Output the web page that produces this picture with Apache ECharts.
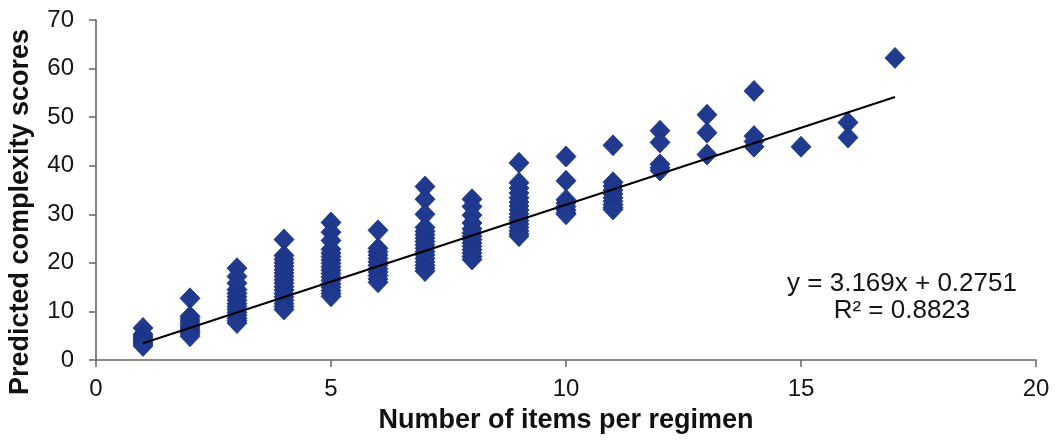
<!DOCTYPE html>
<html>
<head>
<meta charset="utf-8">
<title>Predicted complexity scores vs number of items per regimen</title>
<script src="https://cdn.jsdelivr.net/npm/echarts@6/dist/echarts.min.js"></script>
<style>
  html, body { margin: 0; padding: 0; background: #ffffff; }
  #chart { width: 1056px; height: 444px; }
</style>
</head>
<body>
<div id="chart"></div>
<script>
// Number of items in each regimen (x positions of the point columns)
const itemCounts = [1, 2, 3, 4, 5, 6, 7, 8, 9, 10, 11, 12, 13, 14, 15, 16, 17];

// Predicted complexity scores observed for each item count
const scoresByCount = [
  [6.6, 5.3, 4.9, 4.5, 4.1, 3.7, 3.3, 2.9],
  [12.7, 9.0, 8.5, 8.0, 7.5, 7.0, 6.6, 6.2, 5.8, 5.4, 4.9],
  [18.9, 17.2, 15.8, 14.5, 13.7, 13.0, 12.3, 11.6, 11.0, 10.4, 9.8, 9.2, 8.6, 8.1, 7.6],
  [24.8, 21.5, 20.7, 20.0, 19.3, 18.6, 17.9, 17.2, 16.5, 15.8, 15.1, 14.4, 13.7, 13.0, 12.3, 11.6, 11.0, 10.4],
  [28.3, 26.3, 24.6, 22.8, 22.0, 21.3, 20.6, 19.9, 19.2, 18.5, 17.8, 17.1, 16.4, 15.7, 15.0, 14.3, 13.7, 13.1],
  [26.7, 23.0, 22.3, 21.6, 20.9, 20.2, 19.5, 18.8, 18.1, 17.4, 16.7, 16.0],
  [35.7, 33.1, 30.0, 27.3, 26.5, 25.8, 25.1, 24.4, 23.7, 23.0, 22.3, 21.6, 20.9, 20.2, 19.5, 18.9, 18.3],
  [33.1, 31.6, 29.8, 28.2, 27.0, 26.2, 25.5, 24.8, 24.1, 23.4, 22.7, 22.0, 21.3, 20.7],
  [40.6, 36.5, 35.4, 34.4, 33.4, 32.5, 31.7, 30.9, 30.1, 29.4, 28.7, 28.0, 27.3, 26.6, 26.0, 25.5],
  [41.9, 36.9, 33.0, 32.3, 31.6, 30.9, 30.3, 30.0],
  [44.2, 36.6, 35.8, 35.0, 34.2, 33.4, 32.7, 32.0, 31.4, 31.0],
  [47.2, 44.8, 40.3, 39.6, 39.0],
  [50.5, 46.8, 42.3],
  [55.4, 46.1, 45.0, 43.9],
  [43.9],
  [48.9, 45.8],
  [62.2]
];

// Axis ticks
const xTicks = [0, 5, 10, 15, 20];
const yTicks = [0, 10, 20, 30, 40, 50, 60, 70];

// Linear trend line fitted to the points
const trendSlope = 3.169;
const trendIntercept = 0.2751;
const trendR2 = 0.8823;
const trendRange = [1, 17];

const points = [];
itemCounts.forEach((n, i) => {
  scoresByCount[i].forEach(v => points.push([n, v]));
});

const trendPoints = trendRange.map(x => [x, trendSlope * x + trendIntercept]);

const chart = echarts.init(document.getElementById('chart'), null, { renderer: 'canvas' });

const axisColor = '#666666';
const labelColor = '#151515';
const fontFamily = '"Liberation Sans", Arial, Helvetica, sans-serif';

chart.setOption({
  backgroundColor: '#ffffff',
  animation: false,
  grid: { left: 96, right: 20, top: 20, bottom: 84 },
  xAxis: {
    type: 'value',
    min: xTicks[0],
    max: xTicks[xTicks.length - 1],
    interval: xTicks[1] - xTicks[0],
    axisLine: { show: true, lineStyle: { color: axisColor, width: 1.6 } },
    axisTick: { show: true, inside: false, length: 7, lineStyle: { color: axisColor, width: 1.5 } },
    splitLine: { show: false },
    axisLabel: { fontSize: 24, color: labelColor, fontFamily, margin: 17 },
    name: 'Number of items per regimen',
    nameLocation: 'middle',
    nameGap: 47,
    nameTextStyle: { fontSize: 27, fontWeight: 'bold', color: '#111', fontFamily }
  },
  yAxis: {
    type: 'value',
    min: yTicks[0],
    max: yTicks[yTicks.length - 1],
    interval: yTicks[1] - yTicks[0],
    axisLine: { show: true, onZero: false, lineStyle: { color: axisColor, width: 1.6 } },
    axisTick: { show: true, inside: false, length: 7, lineStyle: { color: axisColor, width: 1.5 } },
    splitLine: { show: false },
    axisLabel: { fontSize: 24, color: labelColor, fontFamily, margin: 22 }
  },
  graphic: [
    {
      type: 'text',
      x: 21,
      y: 212,
      rotation: Math.PI / 2,
      style: {
        text: 'Predicted complexity scores',
        font: 'bold 27px ' + fontFamily,
        fill: '#111',
        align: 'center',
        verticalAlign: 'middle'
      }
    },
    {
      type: 'text',
      x: 902,
      y: 297,
      style: {
        text: 'y = ' + trendSlope + 'x + ' + trendIntercept + '\nR\u00B2 = ' + trendR2,
        font: '26px ' + fontFamily,
        fill: labelColor,
        align: 'center',
        verticalAlign: 'middle',
        lineHeight: 27
      }
    }
  ],
  series: [
    {
      type: 'scatter',
      data: points,
      symbol: 'diamond',
      symbolSize: [20, 21],
      itemStyle: { color: '#1f3a8f', borderColor: '#1a3080', borderWidth: 0.8, opacity: 1 },
      z: 2
    },
    {
      type: 'line',
      data: trendPoints,
      symbol: 'none',
      lineStyle: { color: '#000000', width: 2 },
      z: 3
    }
  ]
});
</script>
</body>
</html>
